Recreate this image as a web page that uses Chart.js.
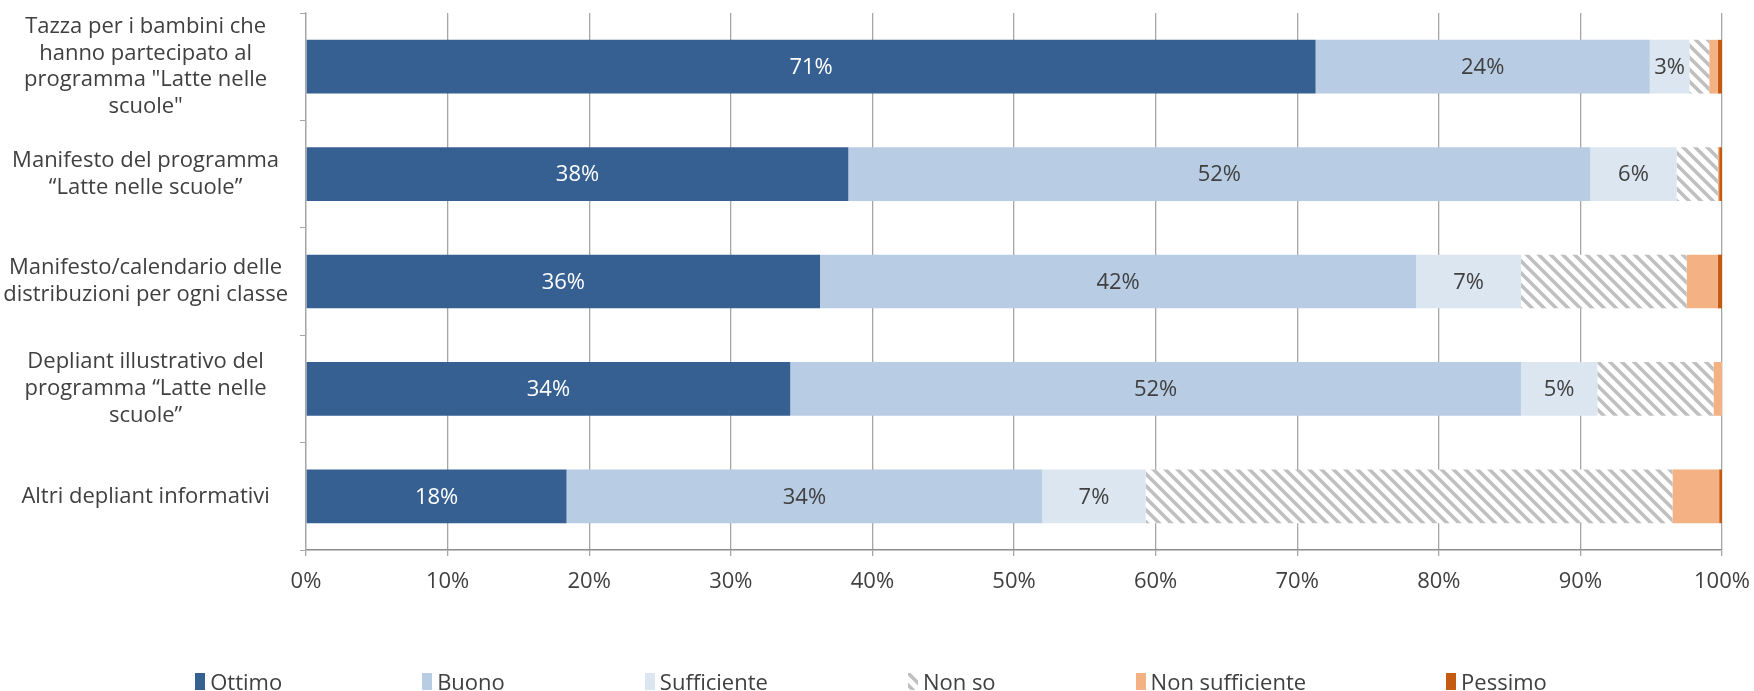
<!DOCTYPE html>
<html lang="it">
<head>
<meta charset="UTF-8">
<title>Valutazione dei materiali - Latte nelle scuole</title>
<style>
  html, body { margin: 0; padding: 0; background: #ffffff; }
  #wrap { position: relative; width: 1754px; height: 691px; }
  #legend {
    position: absolute; left: 0; top: 666px; width: 1742px; padding-right: 12px;
    display: flex; justify-content: center; align-items: center;
    font-family: 'Open Sans', sans-serif; font-size: 22px; color: #404040;
  }
  #legend .item { display: flex; align-items: center; margin: 0 70px; white-space: nowrap; }
  #legend canvas { width: 10px; height: 17px; margin-right: 5px; }
</style>
</head>
<body>
<div id="wrap">
    <canvas id="myChart"></canvas>
    <div id="legend"></div>
</div>

<script src="https://cdn.jsdelivr.net/npm/chart.js@4.4.1/dist/chart.umd.min.js"></script>
<script>
    // categories (multi-line labels, as in the original)
    var categories = [
        ['Tazza per i bambini che', 'hanno partecipato al', 'programma "Latte nelle', 'scuole"'],
        ['Manifesto del programma', '\u201CLatte nelle scuole\u201D'],
        ['Manifesto/calendario delle', 'distribuzioni per ogni classe'],
        ['Depliant illustrativo del', 'programma \u201CLatte nelle', 'scuole\u201D'],
        'Altri depliant informativi'
    ];

    // share of answers, %
    var ottimo         = [71.3, 38.3, 36.3, 34.2, 18.4];
    var buono          = [23.6, 52.4, 42.1, 51.6, 33.6];
    var sufficiente    = [2.8, 6.1, 7.4, 5.4, 7.3];
    var nonSo          = [1.4, 2.9, 11.7, 8.2, 37.2];
    var nonSufficiente = [0.6, 0.1, 2.2, 0.6, 3.3];
    var pessimo        = [0.3, 0.2, 0.3, 0.0, 0.2];

    var xTicks = ['0%', '10%', '20%', '30%', '40%', '50%', '60%', '70%', '80%', '90%', '100%'];

    var FONT = "'Open Sans', sans-serif";
    var TEXT = '#404040';
    var SIZE = 22;

    // grey diagonal hatch used for "Non so"
    function hatch() {
        var c = document.createElement('canvas');
        c.width = 12; c.height = 12;
        var g = c.getContext('2d');
        g.fillStyle = '#ffffff';
        g.fillRect(0, 0, 12, 12);
        g.strokeStyle = '#bfbfbf';
        g.lineWidth = 3.5;
        g.beginPath();
        for (var k = -1; k <= 1; k++) {
            g.moveTo(k * 12 - 2, -2);
            g.lineTo(k * 12 + 14, 14);
        }
        g.stroke();
        return g.createPattern(c, 'repeat');
    }

    // percentage labels in the middle of the segments
    var barLabels = {
        id: 'barLabels',
        afterDatasetsDraw: function (chart) {
            var ctx = chart.ctx;
            ctx.save();
            ctx.font = SIZE + 'px ' + FONT;
            ctx.textAlign = 'center';
            ctx.textBaseline = 'middle';
            chart.data.datasets.forEach(function (ds, i) {
                if (!ds.labelColor) return;
                var meta = chart.getDatasetMeta(i);
                meta.data.forEach(function (bar, j) {
                    var p = bar.getCenterPoint();
                    ctx.fillStyle = ds.labelColor;
                    ctx.fillText(Math.round(ds.data[j]) + '%', p.x, p.y + 1);
                });
            });
            ctx.restore();
        }
    };

    // legend built in html from the chart's own legend items
    var htmlLegend = {
        id: 'htmlLegend',
        afterUpdate: function (chart) {
            var box = document.getElementById('legend');
            box.innerHTML = '';
            chart.options.plugins.legend.labels.generateLabels(chart).forEach(function (item) {
                var el = document.createElement('div');
                el.className = 'item';
                var sw = document.createElement('canvas');
                sw.width = 10; sw.height = 17;
                var g = sw.getContext('2d');
                g.fillStyle = chart.data.datasets[item.datasetIndex].backgroundColor;
                g.fillRect(0, 0, 10, 17);
                var t = document.createElement('span');
                t.textContent = item.text;
                el.appendChild(sw);
                el.appendChild(t);
                box.appendChild(el);
            });
        }
    };

    var ctx = document.getElementById('myChart').getContext('2d');
    new Chart(ctx, {
        type: 'bar',
        data: {
            labels: categories,
            datasets: [
                { label: 'Ottimo', data: ottimo, backgroundColor: '#366092', labelColor: '#ffffff' },
                { label: 'Buono', data: buono, backgroundColor: '#b8cce4', labelColor: TEXT },
                { label: 'Sufficiente', data: sufficiente, backgroundColor: '#dce6f1', labelColor: TEXT },
                { label: 'Non so', data: nonSo, backgroundColor: hatch() },
                { label: 'Non sufficiente', data: nonSufficiente, backgroundColor: '#f4b183' },
                { label: 'Pessimo', data: pessimo, backgroundColor: '#c55a11' }
            ]
        },
        options: {
            indexAxis: 'y',
            responsive: true,
            maintainAspectRatio: false,
            animation: false,
            categoryPercentage: 0.5,
            barPercentage: 1,
            layout: { padding: { top: 13, right: 32, left: 0, bottom: 96 } },
            plugins: {
                tooltip: { enabled: false },
                legend: { display: false }
            },
            scales: {
                x: {
                    stacked: true,
                    min: 0,
                    max: 100,
                    ticks: {
                        stepSize: 10,
                        padding: 13,
                        color: TEXT,
                        font: { family: FONT, size: SIZE },
                        callback: function (v) { return xTicks[Math.round(v / 10)]; }
                    },
                    grid: { color: '#a6a6a6', lineWidth: 1.3, tickLength: 6 },
                    border: { color: '#8c8c8c', width: 1.5 },
                    afterFit: function (s) {
                        s.height = 45;
                        s.paddingLeft = 0;
                        s.paddingRight = 0;
                    }
                },
                y: {
                    stacked: true,
                    ticks: {
                        autoSkip: false,
                        crossAlign: 'center',
                        padding: 12,
                        color: TEXT,
                        font: { family: FONT, size: SIZE, lineHeight: 1.22 }
                    },
                    grid: { offset: true, drawOnChartArea: false, color: '#a6a6a6', tickLength: 6 },
                    border: { color: '#a6a6a6', width: 1.3 },
                    afterFit: function (s) {
                        s.width = 306;
                        s.paddingTop = 0;
                        s.paddingBottom = 0;
                    }
                }
            }
        },
        plugins: [barLabels, htmlLegend]
    });
</script>
</body>
</html>
